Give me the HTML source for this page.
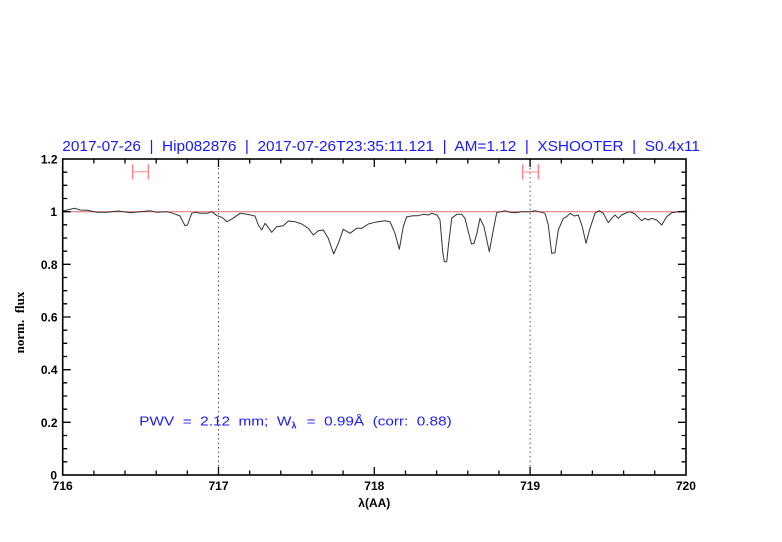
<!DOCTYPE html>
<html><head><meta charset="utf-8"><style>
html,body{margin:0;padding:0;background:#fff;}
svg{display:block;}
text{white-space:pre;}
</style></head><body>
<svg width="782" height="542" viewBox="0 0 782 542" xmlns="http://www.w3.org/2000/svg" xml:space="preserve">
<rect width="782" height="542" fill="#fff"/>
<text x="62.3" y="151" font-family="Liberation Sans, sans-serif" font-size="14.5" fill="#1a1aff" textLength="637.7" lengthAdjust="spacingAndGlyphs">2017-07-26  |  Hip082876  |  2017-07-26T23:35:11.121  |  AM=1.12  |  XSHOOTER  |  S0.4x11</text>
<line x1="218.5" y1="159" x2="218.5" y2="475" stroke="#555" stroke-width="1" stroke-dasharray="1.5,3"/>
<line x1="530.1" y1="159" x2="530.1" y2="475" stroke="#555" stroke-width="1" stroke-dasharray="1.5,3"/>
<line x1="62.7" y1="211.7" x2="686" y2="211.7" stroke="#e06a6a" stroke-width="1"/>
<g stroke="#ff7070" stroke-width="1.2" fill="none">
<line x1="132.7" y1="164.3" x2="132.7" y2="179.3"/>
<line x1="148.3" y1="164.3" x2="148.3" y2="179.3"/>
<line x1="132.7" y1="171.7" x2="148.3" y2="171.7" stroke="#ffa0a0"/>
<line x1="522.7" y1="164.3" x2="522.7" y2="179.3"/>
<line x1="538.3" y1="164.3" x2="538.3" y2="179.3"/>
<line x1="522.7" y1="172" x2="538.3" y2="172" stroke="#ffa0a0"/>
</g>
<polyline fill="none" stroke="#333" stroke-width="1" stroke-linejoin="round" points="63,211 69,209.5 75,208.3 80,210 87,210.3 97,212.3 107,212.3 118,211 130,212.7 140,211.7 150,210.7 157,212.3 167,211.7 173,213.3 180,216 185,225.7 187.5,225 191.7,213.3 195,212.3 200,213.3 207,213.3 212,211.7 217,215.7 222,217.3 227,221.7 233,218.3 240,213.3 247,214.3 255,216 258.3,225 261.7,230 265,223.3 268,227 271.7,232.3 276.7,226.7 283.3,225.7 288.3,221 295,221.7 301.7,224 308.3,228.3 313.3,235 318.3,230.7 323.3,230 328.3,238.3 333.7,254 338.3,243.3 343.3,229.3 350,233.3 356.7,228.3 361.7,228.3 368.3,224 375,222.3 385,220.7 390,221.7 395,233.3 399.3,249.3 403.3,226.7 406.7,216.7 413.3,215.7 418.3,215.7 423.3,214.3 428.3,215 432,213.3 437,215 440,220 442.7,252 444.3,261.7 446.7,261.7 448.3,246.7 451.7,218.3 456.7,214.3 461.7,214.3 465,218.3 468.3,231.7 471.5,244 474,243.3 477,233 480,218.3 484,226.7 489.3,251.7 493.3,230 496.7,212.7 505,210.7 510,212.3 515,212.7 521.7,211.7 530,211.7 535,210.7 545,213.3 548.3,225 551.7,253.3 555,252.7 558.3,230 563.3,218.3 566.7,216.7 570,213.3 574.3,216 578.3,215 582.3,226.7 586,243.3 590,228.3 595,213.3 599,210.7 603.3,213.3 608.3,222.7 611.7,218.3 615,215 618.3,218.3 621.7,215 626.7,212.7 630,211.7 635,214 638.3,217.3 641.7,220.7 645,218.3 648.3,220 651.7,218.3 656.7,220 661.7,225 666.7,216.7 671.7,212.7 678.3,211.7 686,211"/>
<rect x="62.7" y="159" width="623.3" height="316" fill="none" stroke="#000" stroke-width="1.6"/>
<path fill="none" stroke="#000" stroke-width="1.3" d="M93.9 475v-4.5M125 475v-4.5M156.2 475v-4.5M187.3 475v-4.5M218.5 475v-8M249.7 475v-4.5M280.8 475v-4.5M312 475v-4.5M343.1 475v-4.5M374.3 475v-8M405.5 475v-4.5M436.6 475v-4.5M467.8 475v-4.5M498.9 475v-4.5M530.1 475v-8M561.3 475v-4.5M592.4 475v-4.5M623.6 475v-4.5M654.7 475v-4.5 M93.9 159v4.5M125 159v4.5M156.2 159v4.5M187.3 159v4.5M218.5 159v8M249.7 159v4.5M280.8 159v4.5M312 159v4.5M343.1 159v4.5M374.3 159v8M405.5 159v4.5M436.6 159v4.5M467.8 159v4.5M498.9 159v4.5M530.1 159v8M561.3 159v4.5M592.4 159v4.5M623.6 159v4.5M654.7 159v4.5 M62.7 461.8h4.5M62.7 448.7h4.5M62.7 435.5h4.5M62.7 422.3h8M62.7 409.2h4.5M62.7 396h4.5M62.7 382.8h4.5M62.7 369.7h8M62.7 356.5h4.5M62.7 343.3h4.5M62.7 330.2h4.5M62.7 317h8M62.7 303.8h4.5M62.7 290.7h4.5M62.7 277.5h4.5M62.7 264.3h8M62.7 251.2h4.5M62.7 238h4.5M62.7 224.8h4.5M62.7 211.7h8M62.7 198.5h4.5M62.7 185.3h4.5M62.7 172.2h4.5 M686 461.8h-4.5M686 448.7h-4.5M686 435.5h-4.5M686 422.3h-8M686 409.2h-4.5M686 396h-4.5M686 382.8h-4.5M686 369.7h-8M686 356.5h-4.5M686 343.3h-4.5M686 330.2h-4.5M686 317h-8M686 303.8h-4.5M686 290.7h-4.5M686 277.5h-4.5M686 264.3h-8M686 251.2h-4.5M686 238h-4.5M686 224.8h-4.5M686 211.7h-8M686 198.5h-4.5M686 185.3h-4.5M686 172.2h-4.5"/>
<g font-family="Liberation Sans, sans-serif" font-size="12" font-weight="bold" fill="#000" text-anchor="end">
<text x="57" y="479.5">0</text>
<text x="57.5" y="426.8">0.2</text>
<text x="57.5" y="374.2">0.4</text>
<text x="57.5" y="321.5">0.6</text>
<text x="57.5" y="268.8">0.8</text>
<text x="57" y="216.2">1</text>
<text x="57.5" y="163.5">1.2</text>
</g>
<g font-family="Liberation Sans, sans-serif" font-size="12" font-weight="bold" fill="#000" text-anchor="middle">
<text x="62.7" y="490">716</text>
<text x="218.5" y="490">717</text>
<text x="374.3" y="490">718</text>
<text x="530.1" y="490">719</text>
<text x="685.9" y="490">720</text>
</g>
<text x="374.3" y="507" font-family="Liberation Sans, sans-serif" font-size="12" font-weight="bold" fill="#000" text-anchor="middle">λ(AA)</text>
<text transform="translate(24,322.5) rotate(-90)" font-family="Liberation Serif, serif" font-size="13" font-weight="bold" fill="#000" text-anchor="middle">norm.  flux</text>
<g font-family="Liberation Sans, sans-serif" fill="#1a1aff">
<text x="139.3" y="425.5" font-size="12.5" textLength="152" lengthAdjust="spacingAndGlyphs">PWV  =  2.12  mm;  W</text>
<text x="291.5" y="428.5" font-size="9" font-weight="bold">λ</text>
<text x="306.7" y="425.5" font-size="12.5" textLength="145" lengthAdjust="spacingAndGlyphs">=  0.99Å  (corr:  0.88)</text>
</g>
</svg>
</body></html>
